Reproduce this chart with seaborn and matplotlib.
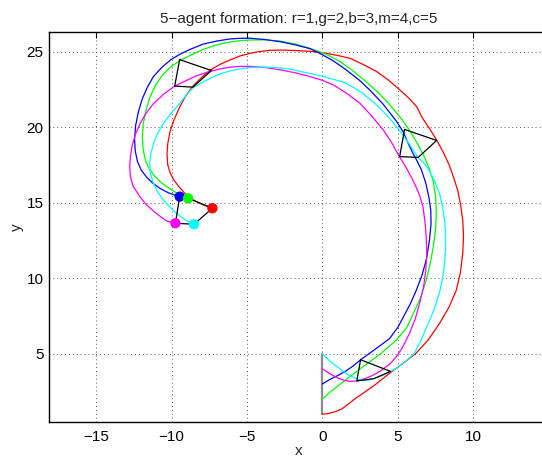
import pandas as pd
import matplotlib
matplotlib.use("Agg")
import matplotlib.pyplot as plt
import seaborn as sns

# trajectories of the 5 agents
red_x = [0.0, 0.35, 0.7, 1.0, 1.3, 1.8, 2.2, 2.5, 3.0, 3.5, 4.0, 4.5, 5.4, 6.2, 7.0, 7.76, 8.4, 8.87, 9.15,
         9.3, 9.35, 9.3, 9.15, 8.97, 8.72, 8.4, 8.0, 7.57, 7.1, 6.6, 6.25, 5.7, 5.14, 4.4, 3.6, 2.7, 1.83,
         1.0, 0.06, -0.8, -1.7, -2.6, -3.47, -4.2, -4.8, -5.5, -6.12, -6.8, -7.4, -8.0, -8.6, -9.1, -9.5,
         -9.85, -10.1, -10.25, -10.3, -10.25, -10.1, -9.85, -9.5, -9.1, -8.68, -8.0, -7.29]
red_y = [1.0, 1.03, 1.12, 1.22, 1.35, 1.73, 2.05, 2.25, 2.6, 2.95, 3.35, 3.75, 4.4, 5.03, 5.9, 7.0, 8.1, 9.2, 10.4,
         11.65, 12.8, 13.85, 14.9, 15.8, 16.6, 17.5, 18.35, 19.15, 19.9, 20.65, 21.36, 21.95, 22.46, 23.1, 23.68, 24.15, 24.56,
         24.75, 24.92, 25.02, 25.07, 25.1, 25.09, 25.0, 24.89, 24.7, 24.45, 24.15, 23.8, 23.3, 22.7, 22.0, 21.25,
         20.45, 19.7, 18.9, 18.2, 17.5, 17.0, 16.5, 16.05, 15.6, 15.25, 14.9, 14.63]

green_x = [0.0, 0.5, 1.0, 1.58, 2.1, 2.68, 3.8, 4.9, 5.6, 6.0, 6.5, 6.88, 7.15, 7.35, 7.5, 7.55, 7.5, 7.35,
           7.1, 6.77, 6.3, 5.8, 5.2, 4.45, 3.7, 2.9, 2.0, 1.16, 0.2, -0.83, -1.8, -2.81, -3.8, -4.8, -5.5,
           -6.12, -7.0, -7.9, -8.77, -9.46, -10.1, -10.6, -11.05, -11.42, -11.7, -11.88, -11.93, -11.88,
           -11.7, -11.45, -11.1, -10.7, -10.3, -9.6, -8.9]
green_y = [2.0, 2.45, 2.85, 3.3, 3.7, 4.14, 4.95, 5.9, 6.75, 7.6, 8.7, 9.88, 11.0, 12.1, 13.2, 14.3, 15.4, 16.4,
           17.2, 18.0, 18.9, 19.75, 20.6, 21.5, 22.3, 23.0, 23.75, 24.35, 24.85, 25.22, 25.5, 25.7, 25.78, 25.77, 25.72,
           25.64, 25.45, 25.15, 24.75, 24.4, 23.95, 23.45, 22.8, 22.0, 21.1, 20.2, 19.3, 18.5,
           17.7, 17.2, 16.75, 16.35, 16.05, 15.6, 15.29]

blue_x = [0.0, 0.5, 1.0, 1.58, 2.05, 2.53, 3.5, 4.45, 5.0, 5.4, 5.85, 6.22, 6.6, 6.88, 7.08, 7.2, 7.18, 7.05,
          6.85, 6.55, 6.2, 6.0, 5.7, 5.35, 4.9, 4.0, 3.2, 2.46, 1.5, 0.7, -0.1, -0.83, -1.8, -2.81, -3.8,
          -4.8, -5.5, -6.12, -7.0, -7.9, -8.77, -9.4, -10.0, -10.6, -11.2, -11.6, -11.95, -12.2, -12.38,
          -12.45, -12.4, -12.25, -12.0, -11.66, -11.25, -10.8, -10.2, -9.46]
blue_y = [3.0, 3.3, 3.55, 3.87, 4.2, 4.6, 5.3, 6.0, 6.75, 7.5, 8.35, 9.2, 10.2, 11.2, 12.4, 13.6, 14.5, 15.4,
          16.3, 17.2, 17.9, 18.26, 18.9, 19.7, 20.4, 21.55, 22.4, 23.1, 23.85, 24.4, 24.85, 25.2, 25.45, 25.66, 25.8,
          25.89, 25.88, 25.84, 25.7, 25.5, 25.15, 24.85, 24.5, 24.0, 23.35, 22.65, 21.85, 21.0, 20.1,
          19.2, 18.4, 17.7, 17.15, 16.7, 16.3, 15.97, 15.65, 15.4]

magenta_x = [0.0, 0.45, 0.9, 1.4, 1.8, 2.28, 2.8, 3.35, 3.9, 4.45, 4.9, 5.3, 5.55, 5.77, 6.15, 6.44, 6.7,
             6.85, 6.92, 6.88, 6.8, 6.66, 6.45, 6.2, 5.89, 5.5, 5.1, 4.6, 4.04, 3.3, 2.49, 1.6, 0.72, 0.0,
             -1.0, -1.9, -2.81, -3.8, -4.8, -5.5, -6.12, -6.8, -7.6, -8.35, -9.1, -9.79, -10.5, -11.2, -11.7,
             -12.1, -12.4, -12.6, -12.72, -12.77, -12.72, -12.55, -12.1, -11.7, -11.2, -10.7, -10.3, -9.74]
magenta_y = [4.0, 3.7, 3.45, 3.25, 3.17, 3.2, 3.35, 3.57, 3.9, 4.3, 4.8, 5.4, 5.9, 6.35, 7.3, 8.34, 9.4,
             10.5, 11.6, 12.75, 13.7, 14.74, 15.45, 16.06, 16.7, 17.4, 18.05, 18.95, 19.81, 20.7, 21.58, 22.25, 22.8, 23.1,
             23.4, 23.62, 23.8, 23.95, 24.03, 24.02, 23.97, 23.85, 23.65, 23.4, 23.05, 22.72, 22.2, 21.55, 20.9,
             20.2, 19.5, 18.8, 18.1, 17.4, 16.7, 16.1, 15.4, 14.9, 14.45, 14.05, 13.78, 13.64]

cyan_x = [0.0, 0.45, 0.9, 1.35, 1.8, 2.25, 2.68, 3.05, 3.41, 3.95, 4.52, 5.0, 5.4, 5.8, 6.1, 6.5, 6.91, 7.25,
          7.54, 7.8, 7.98, 8.1, 8.16, 8.16, 8.1, 7.95, 7.76, 7.45, 7.1, 6.75, 6.33, 5.75, 5.1, 4.35, 3.57,
          2.6, 1.5, 0.0, -0.8, -1.5, -2.1, -2.81, -3.8, -4.8, -5.5, -6.12, -6.7, -7.2, -7.9, -8.58, -9.05,
          -9.46, -10.05, -10.56, -10.95, -11.2, -11.38, -11.44, -11.4, -11.2, -10.95, -10.56, -10.15, -9.67,
          -9.1, -8.51]
cyan_y = [5.0, 4.55, 4.2, 3.85, 3.55, 3.35, 3.24, 3.25, 3.35, 3.55, 3.83, 4.1, 4.4, 4.75, 5.05, 5.8, 6.79, 7.55,
          8.34, 9.2, 10.1, 11.0, 11.87, 12.9, 13.85, 14.8, 15.62, 16.4, 17.1, 17.6, 18.0, 18.9, 19.8, 20.7, 21.5,
          22.3, 22.95, 23.37, 23.55, 23.7, 23.83, 23.92, 23.98, 23.95, 23.85, 23.72, 23.55, 23.35, 23.0, 22.6, 22.1,
          21.55, 20.9, 20.2, 19.55, 18.9, 18.2, 17.6, 16.9, 16.3, 15.75, 15.2, 14.75, 14.3,
          13.85, 13.57]

# formation snapshots (black outlines)
form1_x = [2.53, 4.52, 3.41, 2.28, 2.53]
form1_y = [4.6, 3.83, 3.35, 3.2, 4.6]
form2_x = [5.44, 7.57, 6.35, 5.12, 5.44]
form2_y = [19.85, 19.12, 18.0, 18.05, 19.85]
form3_x = [-9.46, -7.36, -8.58, -9.79, -9.46]
form3_y = [24.47, 23.75, 22.65, 22.72, 24.47]
# final formation r, g, b, m, c
final_x = [-7.29, -8.9, -9.46, -9.74, -8.51]
final_y = [14.63, 15.29, 15.4, 13.64, 13.57]

agents = ["r", "g", "b", "m", "c"]
colors = {"r": (1, 0, 0), "g": (0, 1, 0), "b": (0, 0, 1), "m": (1, 0, 1), "c": (0, 1, 1)}
paths = {"r": (red_x, red_y), "g": (green_x, green_y), "b": (blue_x, blue_y),
         "m": (magenta_x, magenta_y), "c": (cyan_x, cyan_y)}

rows = []
for a in agents:
    xs, ys = paths[a]
    for i in range(len(xs)):
        rows.append({"agent": a, "step": i, "x": xs[i], "y": ys[i]})
traj = pd.DataFrame(rows)

rows = []
for k, (fx, fy) in enumerate([(form1_x, form1_y), (form2_x, form2_y), (form3_x, form3_y),
                              (final_x + final_x[:1], final_y + final_y[:1])]):
    for i in range(len(fx)):
        rows.append({"shape": k, "step": i, "x": fx[i], "y": fy[i]})
forms = pd.DataFrame(rows)

final = pd.DataFrame({"agent": agents, "x": final_x, "y": final_y})

sns.set_style("white")
plt.rcParams["font.family"] = ["Liberation Sans", "DejaVu Sans"]

fig = plt.figure(figsize=(5.42, 4.59), dpi=100)
ax = fig.add_axes([49 / 542, 37.3 / 459, 499 / 542, 389.4 / 459])

# initial formation: all agents on the line x = 0
ax.plot([0, 0], [1, 5], color="0.55", lw=1.6, zorder=2)

sns.lineplot(data=traj, x="x", y="y", hue="agent", palette=colors, sort=False,
             estimator=None, units="agent", lw=0.9, legend=False, ax=ax, zorder=3)
sns.lineplot(data=forms, x="x", y="y", units="shape", estimator=None, sort=False,
             color="k", lw=0.9, legend=False, ax=ax, zorder=4)
sns.scatterplot(data=final.iloc[[4, 3, 2, 1, 0]], x="x", y="y", hue="agent", palette=colors,
                s=55, edgecolor=None, linewidth=0, legend=False, ax=ax, zorder=5)

ax.set_xlim(-18.12, 14.95)
ax.set_ylim(0.5, 26.28)
ax.set_xticks([-15, -10, -5, 0, 5, 10])
ax.set_yticks([5, 10, 15, 20, 25])
ax.set_xticklabels(["\u221215", "\u221210", "\u22125", "0", "5", "10"])
ax.grid(True, color="0.35", linestyle=(0, (1, 3)), lw=0.7)
ax.tick_params(direction="in", length=4, width=0.8, top=True, right=True,
               labelsize=11, colors="k", pad=6)
ax.tick_params(axis="y", pad=4)
for s in ax.spines.values():
    s.set_color("k")
    s.set_linewidth(1.0)

ax.set_title("5\u2212agent formation: r=1,g=2,b=3,m=4,c=5", fontsize=11, pad=7)
ax.set_xlabel("x", fontsize=11, labelpad=0)
ax.set_ylabel("y", fontsize=11, labelpad=2)

fig.savefig("out.png", dpi=100)
